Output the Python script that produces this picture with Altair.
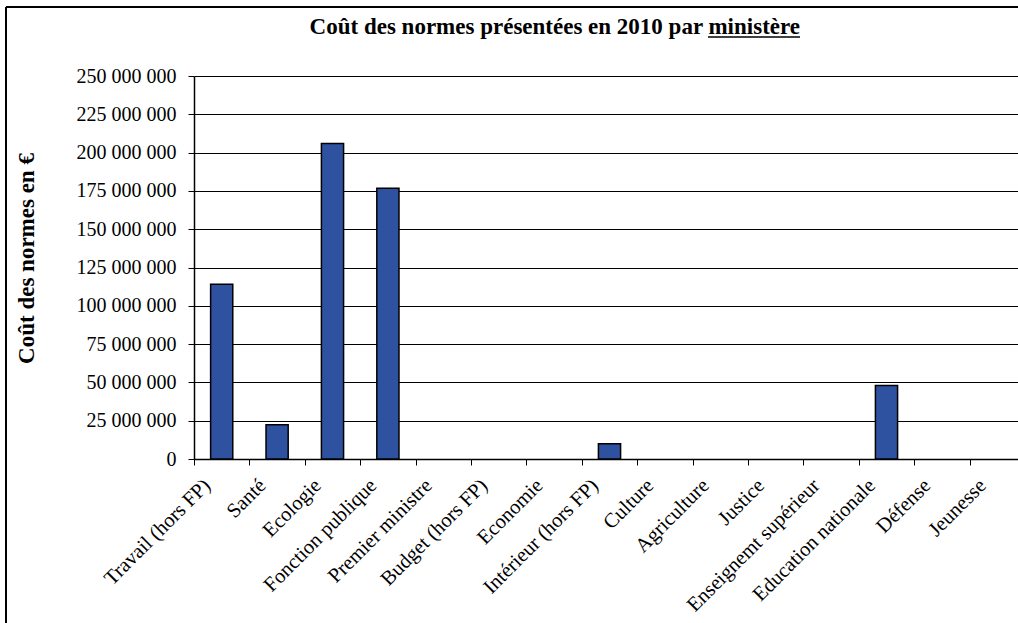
import altair as alt
import pandas as pd

# Ministries, in display order
ministeres = [
    "Travail (hors FP)", "Santé", "Ecologie", "Fonction  publique",
    "Premier ministre", "Budget  (hors FP)", "Economie", "Intérieur  (hors FP)",
    "Culture", "Agriculture", "Justice", "Enseignemt supérieur",
    "Education nationale", "Défense", "Jeunesse",
]
# Cost of the norms presented in 2010 (euros)
couts = [
    114_000_000, 22_400_000, 205_900_000, 176_800_000,
    0, 0, 0, 10_000_000,
    0, 0, 0, 0,
    48_000_000, 0, 0,
]
# Y axis tick values
y_ticks = [0, 25_000_000, 50_000_000, 75_000_000, 100_000_000, 125_000_000,
           150_000_000, 175_000_000, 200_000_000, 225_000_000, 250_000_000]

titre = "Coût des normes présentées en 2010 par ministère"
titre_axe = "Coût des normes en €"

FONT = "Liberation Serif"
W, H = 824, 383
PAD_L, PAD_T = 194, 76

df = pd.DataFrame({"ministere": ministeres, "cout": couts})
one = pd.DataFrame({"k": [0]})

bars = alt.Chart(df).transform_filter("datum.cout > 0").mark_bar(
    width=alt.RelativeBandSize(0.4), color="#2F52A0", stroke="#000000", strokeWidth=1.5
).encode(
    x=alt.X(
        "ministere:N", sort=ministeres, title=None,
        scale=alt.Scale(domain=ministeres, range=[0, 831], paddingInner=0, paddingOuter=0),
        axis=alt.Axis(
            labelAngle=-45, labelAlign="right", labelBaseline="top",
            labelFont=FONT, labelFontSize=20.5, labelColor="#000000",
            labelOffset=-22, labelPadding=10, labelOverlap=False, labelLimit=0,
            tickBand="extent", tickSize=6, tickColor="#000000", tickWidth=1,
            domainColor="#000000", domainWidth=1.5, grid=False,
        ),
    ),
    y=alt.Y(
        "cout:Q", title=titre_axe,
        scale=alt.Scale(domain=[0, 250_000_000], nice=False),
        axis=alt.Axis(
            values=y_ticks, format=",d",
            labelFont=FONT, labelFontSize=20, labelColor="#000000", labelPadding=12,
            tickSize=6, tickColor="#000000", tickWidth=1,
            domainColor="#000000", domainWidth=1.5,
            gridColor="#000000", gridWidth=1,
            titleFont=FONT, titleFontSize=23, titleFontWeight="bold", titleColor="#000000",
            titleX=26 - PAD_L, titleY=258 - PAD_T, titleAngle=-90,
            titleAlign="center", titleBaseline="middle",
        ),
    ),
)

# Chart title with its underlined last word
title_text = alt.Chart(one).mark_text(
    text=titre, font=FONT, fontSize=23, fontWeight="bold", color="#000000",
    align="right", baseline="alphabetic",
).encode(x=alt.value(800 - PAD_L), y=alt.value(34 - PAD_T))

underline = alt.Chart(one).mark_rule(color="#000000", strokeWidth=1.5).encode(
    x=alt.value(708 - PAD_L), x2=alt.value(800 - PAD_L), y=alt.value(37 - PAD_T)
)

# Chart area frame (left and top edges)
frame_left = alt.Chart(one).mark_rule(color="#000000", strokeWidth=2).encode(
    x=alt.value(6 - PAD_L), y=alt.value(7 - PAD_T), y2=alt.value(640 - PAD_T)
)
frame_top = alt.Chart(one).mark_rule(color="#000000", strokeWidth=2).encode(
    x=alt.value(6 - PAD_L), x2=alt.value(1030 - PAD_L), y=alt.value(7 - PAD_T)
)

chart = alt.layer(bars, title_text, underline, frame_left, frame_top).properties(
    width=W, height=H,
    autosize=alt.AutoSizeParams(type="none"),
    padding={"left": PAD_L, "top": PAD_T, "right": 0, "bottom": 623 - PAD_T - H},
    background="#ffffff",
).configure(
    locale={"number": {"decimal": ",", "thousands": " ", "grouping": [3], "currency": ["", " €"]}}
).configure_view(stroke=None)

chart.save("out.html", embed_options={"renderer": "svg", "actions": False})
